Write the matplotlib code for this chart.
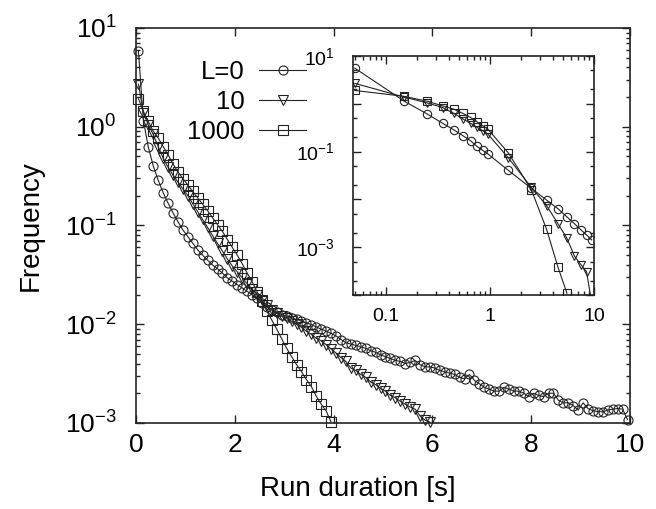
import numpy as np
import matplotlib
matplotlib.use("Agg")
from matplotlib import pyplot as plt
from matplotlib.ticker import LogLocator, FixedLocator, FuncFormatter, NullFormatter, NullLocator

plt.rcParams['font.family'] = ['Liberation Sans', 'DejaVu Sans']
plt.rcParams['mathtext.fontset'] = 'custom'
plt.rcParams['mathtext.rm'] = 'Liberation Sans'
plt.rcParams['mathtext.it'] = 'Liberation Sans'

# main panel: 0.1 s bins, centres at 0.05, 0.15, ...
freq_L0 = [5.8, 1.15, 0.62, 0.40, 0.287, 0.215, 0.168, 0.134, 0.109, 0.090,
           0.077, 0.066, 0.0565, 0.050, 0.0445, 0.0398, 0.0365, 0.0330, 0.0295, 0.0272,
           0.0252, 0.0233, 0.0215, 0.0200, 0.0183, 0.0163, 0.0150, 0.0140, 0.0132, 0.0125,
           0.0121, 0.0116, 0.0112, 0.0108, 0.0103, 0.0099, 0.0094, 0.0089, 0.0085, 0.0081,
           0.0076, 0.0070, 0.0065, 0.0063, 0.0061, 0.0059, 0.0057, 0.0054, 0.0052, 0.0049,
           0.0047, 0.0045, 0.0043, 0.0042, 0.0040, 0.0041, 0.0043, 0.0039, 0.0037, 0.0037,
           0.0036, 0.0034, 0.0033, 0.0032, 0.0031, 0.0029, 0.0028, 0.0031, 0.0027, 0.0025,
           0.0023, 0.0022, 0.0021, 0.0021, 0.0023, 0.0022, 0.0021, 0.0021, 0.0020, 0.00185,
           0.0020, 0.0019, 0.00185, 0.0020, 0.0020, 0.0017, 0.0016, 0.0016, 0.0015, 0.00135,
           0.0016, 0.0014, 0.00133, 0.0013, 0.0013, 0.00135, 0.00138, 0.0014, 0.00138, 0.00108]
freq_L10 = [2.7, 1.38, 1.04, 0.835, 0.63, 0.48, 0.39, 0.323, 0.275, 0.235,
            0.20, 0.166, 0.138, 0.115, 0.0955, 0.079, 0.066, 0.055, 0.0457, 0.0389,
            0.0339, 0.0295, 0.0257, 0.0226, 0.020, 0.0174, 0.0155, 0.0140, 0.0129, 0.0120,
            0.0115, 0.0107, 0.0100, 0.0093, 0.0085, 0.0079, 0.0072, 0.0068, 0.0062, 0.0056,
            0.0051, 0.0046, 0.0042, 0.0036, 0.0034, 0.0031, 0.0029, 0.0026, 0.00245, 0.00224,
            0.0021, 0.0019, 0.0018, 0.00166, 0.00155, 0.00145, 0.00138, 0.00118, 0.00107, 0.00102]
freq_L1000 = [1.92, 1.43, 1.13, 0.90, 0.77, 0.63, 0.52, 0.42, 0.348, 0.298,
              0.257, 0.221, 0.19, 0.164, 0.141, 0.120, 0.102, 0.087, 0.072, 0.060,
              0.050, 0.041, 0.033, 0.027, 0.0214, 0.017, 0.0135, 0.011, 0.0089, 0.0071,
              0.0057, 0.0047, 0.0039, 0.0033, 0.00275, 0.00234, 0.00186, 0.00155, 0.00132, 0.00102]

# inset: log axes, fine bins below 1 s and 1 s bins above
inset_t = [0.05, 0.15, 0.25, 0.35, 0.45, 0.55, 0.65, 0.75, 0.85, 0.95,
           1.5, 2.5, 3.5, 4.5, 5.5, 6.5, 7.5, 8.5, 9.5]
inset_L0 = [5.57, 1.13, 0.608, 0.391, 0.284, 0.214, 0.169, 0.128, 0.106, 0.090,
            0.0406, 0.017, 0.0097, 0.0064, 0.0043, 0.0031, 0.0023, 0.0018, 0.00142]
inset_L10 = [2.68, 1.38, 1.04, 0.835, 0.628, 0.479, 0.391, 0.323, 0.275, 0.235,
             0.074, 0.0178, 0.00745, 0.00313, 0.00153, 0.00065, 0.00043, 0.000305, 0.00007]
inset_L1000 = [1.90, 1.43, 1.13, 0.902, 0.77, 0.628, 0.519, 0.422, 0.348, 0.298,
               0.094, 0.0159, 0.00238, 0.000387, 0.000109]

labels = ["L=0", "10", "1000"]
markers = ["o", "v", "s"]
ink = "#222222"


def centres(vals):
    return 0.05 + 0.1 * np.arange(len(vals))


def pow10(v, pos):
    e = int(round(np.log10(v)))
    return r"$10^{%d}$" % e


fig = plt.figure(figsize=(6.56, 5.09), dpi=100)
ax = fig.add_axes([0.2073, 0.169, 0.7531, 0.776])

for vals, lab, m in zip([freq_L0, freq_L10, freq_L1000], labels, markers):
    ax.plot(centres(vals), vals, color=ink, lw=0.8, marker=m, ms=6.5,
            mfc="none", mec=ink, mew=0.8, label=lab, clip_on=False)

ax.set_yscale("log")
ax.set_xlim(0, 10)
ax.set_ylim(1e-3, 1e1)
ax.set_xticks([0, 2, 4, 6, 8, 10])
ax.xaxis.set_minor_locator(NullLocator())
ax.yaxis.set_major_locator(LogLocator(base=10, numticks=10))
ax.yaxis.set_minor_locator(LogLocator(base=10, subs=np.arange(2, 10), numticks=10))
ax.yaxis.set_major_formatter(FuncFormatter(pow10))
ax.yaxis.set_minor_formatter(NullFormatter())
ax.tick_params(which="both", direction="in", top=True, right=True, color=ink,
               labelsize=19, width=1.0)
ax.tick_params(which="major", length=6)
ax.tick_params(which="minor", length=3)
ax.tick_params(axis="x", pad=7)
ax.tick_params(axis="y", pad=14)
for s in ax.spines.values():
    s.set_linewidth(1.2)
    s.set_color(ink)
ax.set_xlabel("Run duration [s]", fontsize=20)
ax.xaxis.set_label_coords(0.45, -0.135)
ax.set_ylabel("Frequency", fontsize=20)
ax.yaxis.set_label_coords(-0.186, 0.5)

leg = ax.legend(loc="upper right", bbox_to_anchor=(0.345, 0.918), markerfirst=False,
                frameon=False, fontsize=18.5, handlelength=1.85, handletextpad=0.55,
                labelspacing=0.22, borderpad=0, borderaxespad=0)

# inset
ins = fig.add_axes([0.538, 0.4204, 0.3674, 0.4696])
ins.plot(inset_t, inset_L0, color=ink, lw=0.8, marker="o", ms=6, mfc="none", mec=ink, mew=0.8)
ins.plot(inset_t, inset_L10, color=ink, lw=0.8, marker="v", ms=6, mfc="none", mec=ink, mew=0.8)
ins.plot(inset_t[:len(inset_L1000)], inset_L1000, color=ink, lw=0.8, marker="s", ms=6,
         mfc="none", mec=ink, mew=0.8)
ins.set_xscale("log")
ins.set_yscale("log")
ins.set_xlim(0.048, 10)
ins.set_ylim(1e-4, 1e1)
ins.xaxis.set_major_locator(FixedLocator([0.1, 1, 10]))
ins.xaxis.set_major_formatter(FuncFormatter(lambda v, p: {0.1: "0.1", 1: "1", 10: "10"}.get(round(v, 1), "")))
ins.xaxis.set_minor_locator(LogLocator(base=10, subs=np.arange(2, 10), numticks=10))
ins.xaxis.set_minor_formatter(NullFormatter())
ins.yaxis.set_major_locator(FixedLocator([1e-4, 1e-3, 1e-2, 1e-1, 1, 10]))
ins.yaxis.set_major_formatter(FuncFormatter(
    lambda v, p: pow10(v, p) if int(round(np.log10(v))) in (1, -1, -3) else ""))
ins.yaxis.set_minor_locator(LogLocator(base=10, subs=(2, 5), numticks=10))
ins.yaxis.set_minor_formatter(NullFormatter())
ins.tick_params(which="both", direction="in", top=True, right=True, color=ink,
                labelsize=14, width=1.0)
ins.tick_params(which="major", length=6)
ins.tick_params(which="minor", length=3)
ins.tick_params(axis="x", pad=9)
ins.tick_params(axis="y", pad=13)
for s in ins.spines.values():
    s.set_linewidth(1.2)
    s.set_color(ink)

fig.savefig("out.png", dpi=100)
